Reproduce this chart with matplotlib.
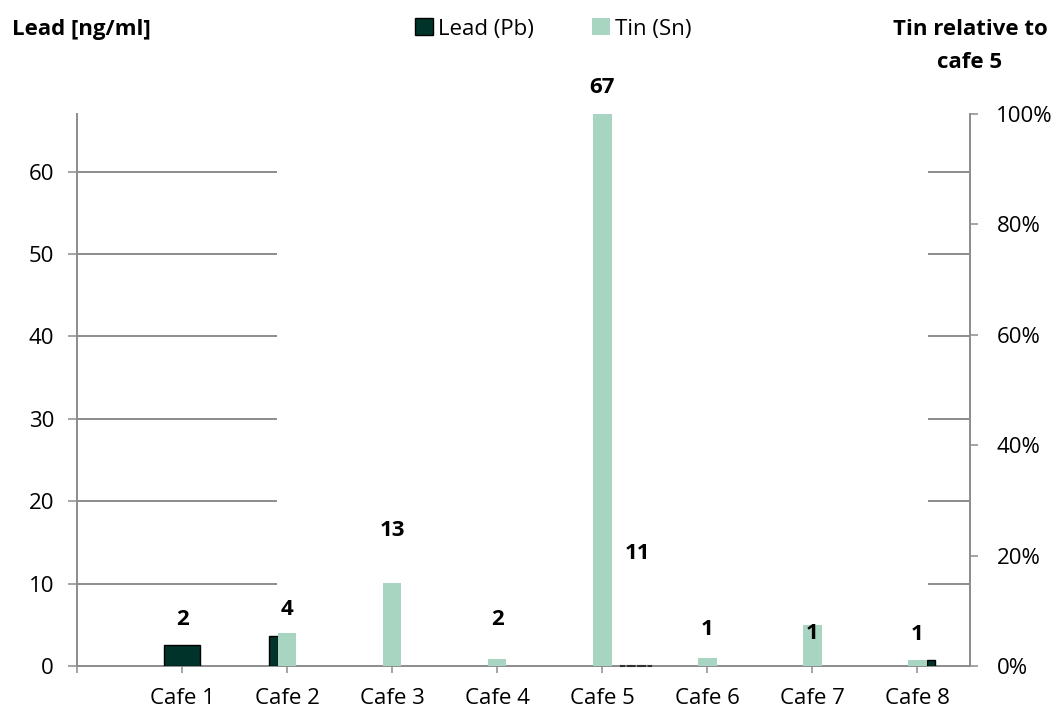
import numpy as np
import matplotlib
matplotlib.use("Agg")
import matplotlib.pyplot as plt
from matplotlib.patches import Patch

plt.rcParams['font.family'] = ['Open Sans', 'DejaVu Sans']

# data
cafes = ['Cafe 1', 'Cafe 2', 'Cafe 3', 'Cafe 4', 'Cafe 5', 'Cafe 6', 'Cafe 7', 'Cafe 8']
lead_ng_ml = [2.5, 3.6, 0.0, 0.0, 0.0, 0.0, 0.0, 0.7]
tin_rel_pct = [0.0, 5.9, 15.0, 1.3, 100.0, 1.5, 7.4, 1.1]
value_labels = ['2', '4', '13', '2', '67', '11', '1', '1', '1']

# layout (category units / left-axis units)
lead_left = [-0.171, -0.171, None, None, 0.171, None, None, 0.095]
lead_right = [0.171, -0.088, None, None, 0.476, None, None, 0.171]
label_x = [0, 1, 2, 3, 4, 4.33, 5, 6, 7]
label_y = [5.7, 6.8, 16.4, 5.7, 70.2, 13.7, 4.4, 4.0, 3.8]

LEAD = '#00332a'
TIN = '#a8d5c1'
GREY = '#8c8c8c'

fig = plt.figure(figsize=(10.56, 7.11), dpi=100)
ax = fig.add_axes([77 / 1056, 45 / 711, 893 / 1056, 552 / 711])
ax2 = ax.twinx()

x = np.arange(len(cafes))

# lead bars (primary axis)
for i, val in enumerate(lead_ng_ml):
    if lead_left[i] is None:
        continue
    w = lead_right[i] - lead_left[i]
    if val > 0:
        ax.bar(x[i] + lead_left[i], val, width=w, align='edge', color=LEAD,
               edgecolor='black', linewidth=1.0, zorder=3)
    else:
        # empty lead value, drawn by the source as a dashed outline on the axis
        ax.bar(x[i] + lead_left[i], val, width=w, align='edge', color='none',
               edgecolor='#303030', linewidth=1.5, linestyle=(0, (2.5, 2.5)),
               zorder=4, clip_on=False)

# tin bars (secondary axis, relative to cafe 5)
ax2.bar(x, tin_rel_pct, width=0.176, color=TIN, edgecolor='none', zorder=3)

# broken horizontal gridlines
grid_y = [10, 20, 30, 40, 50, 60]
ax.hlines(grid_y, -1, 0.904, color=GREY, linewidth=1.4, zorder=1)
ax.hlines(grid_y, 7.10, 7.5, color=GREY, linewidth=1.4, zorder=1)

ax.set_xlim(-1, 7.5)
ax.set_ylim(0, 67)
ax2.set_ylim(0, 100)

ax.set_xticks(np.concatenate([[-1], x]))
ax.set_xticklabels([''] + cafes)
ax.set_yticks([0, 10, 20, 30, 40, 50, 60])
ax2.set_yticks([0, 20, 40, 60, 80, 100])
ax2.set_yticklabels([f'{v}%' for v in [0, 20, 40, 60, 80, 100]])

ax.tick_params(axis='x', length=5, width=1.1, color=GREY, labelsize=16, pad=11)
ax.tick_params(axis='y', length=6.5, width=1.1, color=GREY, labelsize=16, pad=10)
ax2.tick_params(axis='y', length=6, width=1.1, color=GREY, labelsize=16, pad=13)

for a in (ax, ax2):
    a.spines['top'].set_visible(False)
    for s in a.spines.values():
        s.set_color(GREY)
        s.set_linewidth(1.4)
ax.spines['right'].set_visible(False)
ax2.spines['left'].set_visible(False)
ax2.spines['bottom'].set_visible(False)

for t, lx, ly in zip(value_labels, label_x, label_y):
    ax2.text(lx, ly, t, transform=ax.transData, ha='center', va='center',
             fontsize=16, fontweight='bold', clip_on=False, zorder=5)

fig.text(12 / 1056, 1 - 30 / 711, 'Lead [ng/ml]', ha='left', va='center',
         fontsize=16, fontweight='bold')
fig.text(970 / 1056, 1 - 46 / 711, 'Tin relative to\ncafe 5', ha='center', va='center',
         fontsize=16, fontweight='bold', linespacing=1.8)

handles = [Patch(facecolor=LEAD, edgecolor='black', linewidth=1.0, label='Lead (Pb)'),
           Patch(facecolor=TIN, edgecolor='none', label='Tin (Sn)')]
fig.legend(handles=handles, loc='center left', bbox_to_anchor=(404 / 1056, 1 - 29 / 711),
           ncol=2, frameon=False, fontsize=16, borderpad=0, handlelength=0.8,
           handleheight=0.8, handletextpad=0.25, columnspacing=2.6)

fig.savefig('out.png', dpi=100)
